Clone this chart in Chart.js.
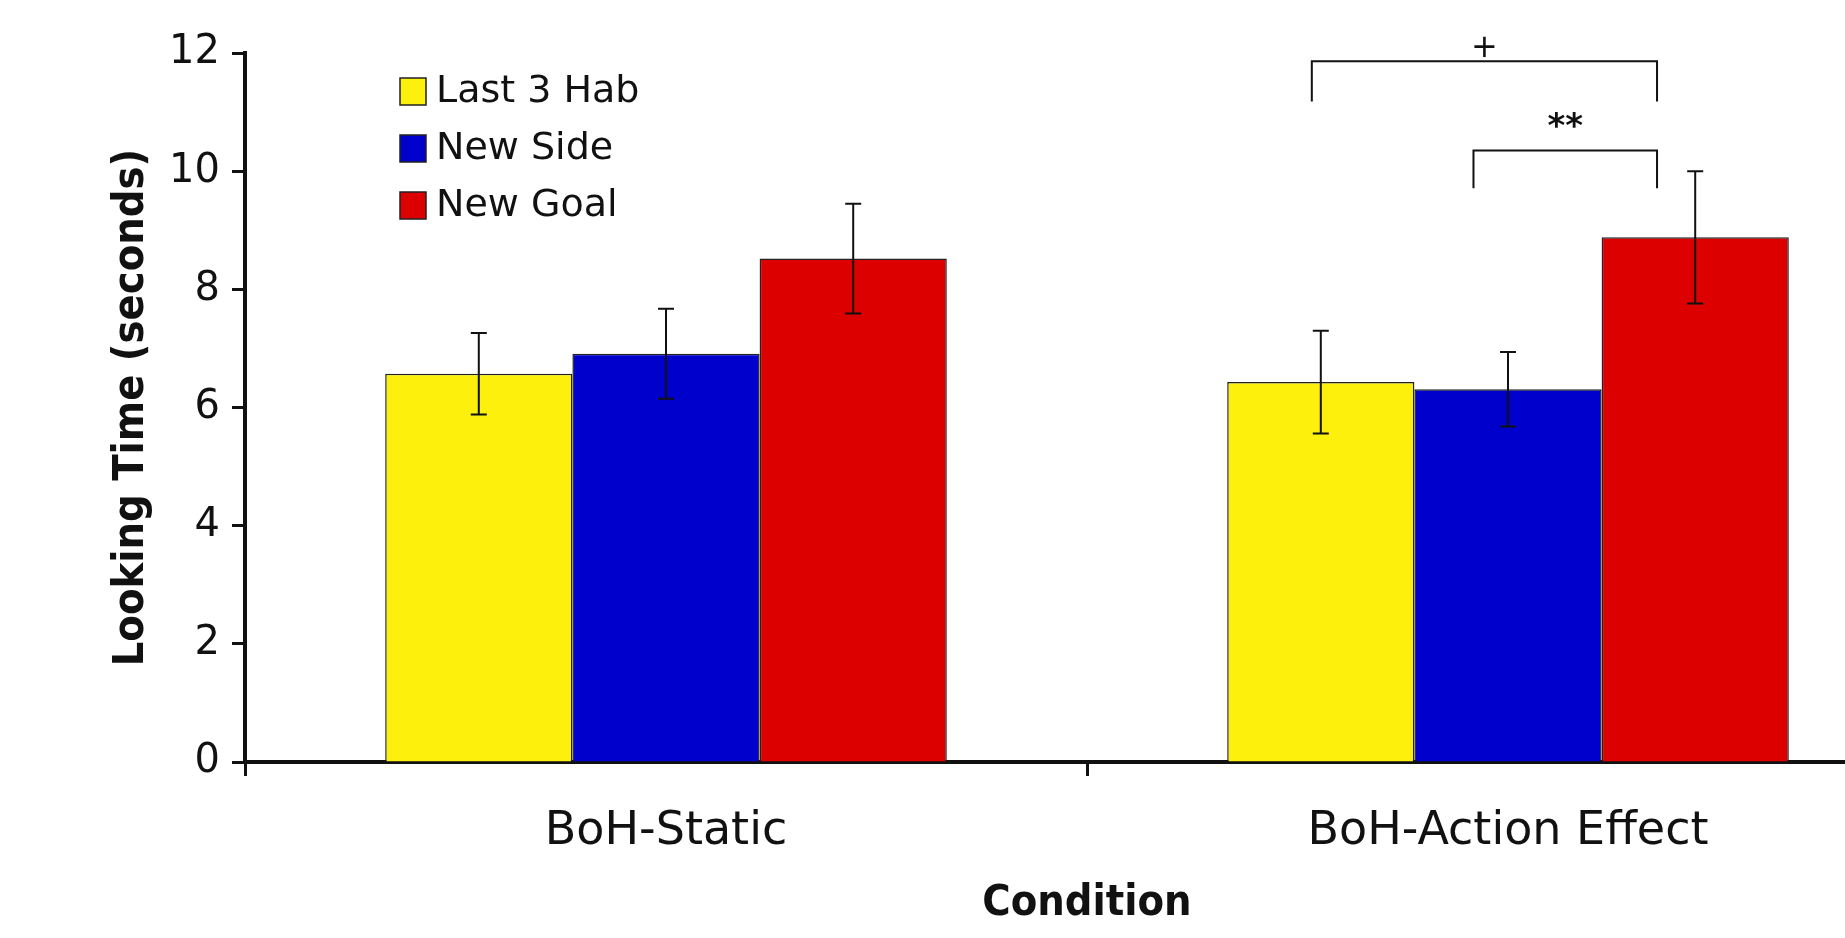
<!DOCTYPE html>
<html>
<head>
<meta charset="utf-8">
<script src="https://cdn.jsdelivr.net/npm/chart.js@4/dist/chart.umd.min.js"></script>
<style>
  html, body { margin: 0; padding: 0; background: #fff; overflow: hidden; }
  #wrap { width: 1845px; height: 938px; overflow: hidden; }
</style>
</head>
<body>
<div id="wrap"><canvas id="lookingChart" width="1940" height="938"></canvas></div>
<script>
const categories = ["BoH-Static", "BoH-Action Effect"];
const seriesNames = ["Last 3 Hab", "New Side", "New Goal"];
const last3Hab = [6.57, 6.43];
const newSide = [6.91, 6.31];
const newGoal = [8.52, 8.88];
const last3HabErr = [0.69, 0.87];
const newSideErr = [0.76, 0.63];
const newGoalErr = [0.93, 1.12];
const yTicks = [0, 2, 4, 6, 8, 10, 12];

// significance brackets (x in category units, y in seconds)
const brackets = [
    { from: 0.767, to: 1.177, top: 11.86, leg: 11.18, label: "+", labelY: 12.08 },
    { from: 0.959, to: 1.177, top: 10.35, leg: 9.71, label: "**", labelY: 10.73 }
];

const colors = ["#fcf00c", "#0000cc", "#dd0000"];
const errors = [last3HabErr, newSideErr, newGoalErr];

const errorBars = {
    id: "errorBars",
    afterDatasetsDraw(chart) {
        const ctx = chart.ctx;
        const y = chart.scales.y;
        const x = chart.scales.x;
        ctx.save();
        ctx.strokeStyle = "#111";
        ctx.lineWidth = 2;
        chart.data.datasets.forEach((ds, i) => {
            chart.getDatasetMeta(i).data.forEach((bar, j) => {
                const v = ds.data[j];
                const e = errors[i][j];
                const yHi = y.getPixelForValue(v + e);
                const yLo = y.getPixelForValue(v - e);
                ctx.beginPath();
                ctx.moveTo(bar.x, yHi);
                ctx.lineTo(bar.x, yLo);
                ctx.moveTo(bar.x - 8, yHi);
                ctx.lineTo(bar.x + 8, yHi);
                ctx.moveTo(bar.x - 8, yLo);
                ctx.lineTo(bar.x + 8, yLo);
                ctx.stroke();
            });
        });

        brackets.forEach(b => {
            const x1 = x.getPixelForValue(b.from);
            const x2 = x.getPixelForValue(b.to);
            const yt = y.getPixelForValue(b.top);
            const yl = y.getPixelForValue(b.leg);
            ctx.beginPath();
            ctx.moveTo(x1, yl);
            ctx.lineTo(x1, yt);
            ctx.lineTo(x2, yt);
            ctx.lineTo(x2, yl);
            ctx.stroke();
            ctx.fillStyle = "#111";
            ctx.textAlign = "center";
            ctx.textBaseline = "middle";
            ctx.font = b.label === "+" ? "32px 'DejaVu Sans'" : "bold 34px 'DejaVu Sans'";
            ctx.fillText(b.label, (x1 + x2) / 2, y.getPixelForValue(b.labelY));
        });

        // legend
        const area = chart.chartArea;
        ctx.font = "38px 'DejaVu Sans'";
        ctx.textAlign = "left";
        ctx.textBaseline = "middle";
        seriesNames.forEach((name, i) => {
            const cy = area.top + 38 + i * 57;
            ctx.fillStyle = colors[i];
            ctx.fillRect(area.left + 155, cy - 13, 26, 27);
            ctx.lineWidth = 1.5;
            ctx.strokeStyle = "#222";
            ctx.strokeRect(area.left + 155, cy - 13, 26, 27);
            ctx.fillStyle = "#111";
            ctx.fillText(name, area.left + 191, cy + 1);
        });
        ctx.restore();
    }
};

new Chart(document.getElementById("lookingChart"), {
    type: "bar",
    data: {
        labels: categories,
        datasets: [
            { label: seriesNames[0], data: last3Hab, backgroundColor: colors[0] },
            { label: seriesNames[1], data: newSide, backgroundColor: colors[1] },
            { label: seriesNames[2], data: newGoal, backgroundColor: colors[2] }
        ]
    },
    options: {
        responsive: false,
        animation: false,
        layout: { padding: { top: 53, right: 11, left: 0, bottom: 0 } },
        datasets: {
            bar: {
                categoryPercentage: 0.667,
                barPercentage: 1,
                borderWidth: 1.5,
                borderColor: "#222"
            }
        },
        plugins: {
            legend: { display: false },
            tooltip: { enabled: false }
        },
        scales: {
            x: {
                grid: {
                    offset: true,
                    drawOnChartArea: false,
                    tickLength: 14,
                    tickWidth: 3,
                    tickColor: "#111"
                },
                border: { color: "#111", width: 4 },
                ticks: {
                    color: "#111",
                    padding: 28,
                    font: { family: "'DejaVu Sans'", size: 46 }
                },
                title: {
                    display: true,
                    text: "Condition",
                    color: "#111",
                    padding: { top: 0, bottom: 8 },
                    font: { family: "'DejaVu Sans Condensed', 'DejaVu Sans'", size: 43, weight: "bold" }
                },
                afterFit(scale) { scale.height = 176; }
            },
            y: {
                min: 0,
                max: 12,
                afterBuildTicks(scale) { scale.ticks = yTicks.map(v => ({ value: v })); },
                grid: {
                    drawOnChartArea: false,
                    tickLength: 13,
                    tickWidth: 3,
                    tickColor: "#111"
                },
                border: { color: "#111", width: 4 },
                ticks: {
                    color: "#111",
                    padding: 12,
                    font: { family: "'DejaVu Sans'", size: 40 }
                },
                title: {
                    display: true,
                    text: "Looking Time (seconds)",
                    color: "#111",
                    padding: { top: 106, bottom: 0 },
                    font: { family: "'DejaVu Sans Condensed', 'DejaVu Sans'", size: 43, weight: "bold" }
                },
                afterFit(scale) { scale.width = 245; }
            }
        }
    },
    plugins: [errorBars]
});
</script>
</body>
</html>
